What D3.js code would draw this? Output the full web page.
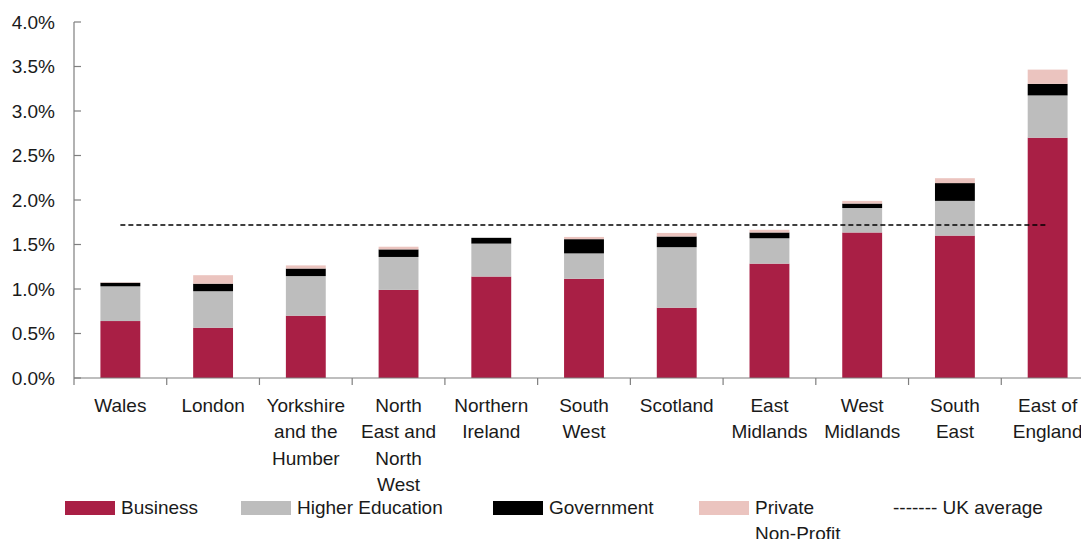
<!DOCTYPE html>
<html>
<head>
<meta charset="utf-8">
<script src="https://cdn.jsdelivr.net/npm/d3@7"></script>
<style>
  html, body { margin: 0; padding: 0; background: #fff; }
  svg { display: block; font-family: "Liberation Sans", Arial, sans-serif; }
</style>
</head>
<body>
<svg id="chart" width="1081" height="539"></svg>
<script>
// R&D expenditure as a share of regional GDP, by performing sector
const regions = [
  ["Wales"], ["London"], ["Yorkshire", "and the", "Humber"],
  ["North", "East and", "North", "West"], ["Northern", "Ireland"],
  ["South", "West"], ["Scotland"], ["East", "Midlands"],
  ["West", "Midlands"], ["South", "East"], ["East of", "England"]
];
const business        = [0.64, 0.565, 0.70, 0.99, 1.14, 1.115, 0.79, 1.285, 1.635, 1.60, 2.70];
const higherEducation = [0.39, 0.41, 0.445, 0.37, 0.37, 0.285, 0.68, 0.285, 0.275, 0.39, 0.475];
const government      = [0.04, 0.085, 0.085, 0.085, 0.065, 0.16, 0.12, 0.065, 0.05, 0.20, 0.13];
const privateNonProfit = [0.005, 0.095, 0.035, 0.03, 0.0, 0.025, 0.04, 0.03, 0.03, 0.055, 0.16];
const ukAverage = 1.72;
const yTicks = [0, 0.5, 1.0, 1.5, 2.0, 2.5, 3.0, 3.5, 4.0];

const seriesKeys = ["Business", "Higher Education", "Government", "Private Non-Profit"];
const seriesColors = ["#A91F45", "#BDBDBD", "#000000", "#EBC4BF"];

const rows = regions.map((r, i) => ({
  key: i,
  "Business": business[i],
  "Higher Education": higherEducation[i],
  "Government": government[i],
  "Private Non-Profit": privateNonProfit[i]
}));

const svg = d3.select("#chart");
const plotLeft = 74, plotRight = 1094, plotTop = 22, plotBottom = 378;
const fontSize = 19;
const textColor = "#1a1a1a";

const x = d3.scaleBand()
  .domain(d3.range(regions.length))
  .range([plotLeft, plotRight])
  .paddingInner(0.57)
  .paddingOuter(0.285);

const y = d3.scaleLinear().domain([0, 4]).range([plotBottom, plotTop]);

const stacked = d3.stack().keys(seriesKeys)(rows);

// stacked bars
svg.append("g").selectAll("g")
  .data(stacked)
  .join("g")
  .attr("fill", (d, i) => seriesColors[i])
  .selectAll("rect")
  .data(d => d)
  .join("rect")
  .attr("x", d => x(d.data.key))
  .attr("width", x.bandwidth())
  .attr("y", d => y(d[1]))
  .attr("height", d => Math.max(0, y(d[0]) - y(d[1])));

// y axis
const axisColor = "#7f7f7f";
svg.append("line")
  .attr("x1", plotLeft).attr("x2", plotLeft)
  .attr("y1", y(4)).attr("y2", y(0))
  .attr("stroke", axisColor).attr("stroke-width", 1.2);

svg.append("g").selectAll("line")
  .data(yTicks)
  .join("line")
  .attr("x1", plotLeft).attr("x2", plotLeft + 7)
  .attr("y1", d => y(d)).attr("y2", d => y(d))
  .attr("stroke", axisColor).attr("stroke-width", 1.2);

svg.append("g").selectAll("text")
  .data(yTicks)
  .join("text")
  .attr("x", 55)
  .attr("y", d => y(d))
  .attr("dy", "0.35em")
  .attr("text-anchor", "end")
  .attr("font-size", fontSize)
  .attr("fill", textColor)
  .text(d => d3.format(".1f")(d) + "%");

// x axis
svg.append("line")
  .attr("x1", plotLeft).attr("x2", plotRight)
  .attr("y1", y(0)).attr("y2", y(0))
  .attr("stroke", axisColor).attr("stroke-width", 1.2);

const step = x.step();
svg.append("g").selectAll("line")
  .data(d3.range(regions.length + 1))
  .join("line")
  .attr("x1", i => plotLeft + i * step).attr("x2", i => plotLeft + i * step)
  .attr("y1", y(0)).attr("y2", y(0) + 7)
  .attr("stroke", axisColor).attr("stroke-width", 1.2);

// category labels
const labels = svg.append("g").selectAll("text")
  .data(regions)
  .join("text")
  .attr("x", (d, i) => x(i) + x.bandwidth() / 2)
  .attr("y", 412)
  .attr("text-anchor", "middle")
  .attr("font-size", fontSize)
  .attr("fill", textColor);
labels.selectAll("tspan")
  .data(d => d)
  .join("tspan")
  .attr("x", function () { return d3.select(this.parentNode).attr("x"); })
  .attr("dy", (d, i) => i === 0 ? 0 : 26.3)
  .text(d => d);

// UK average line
svg.append("line")
  .attr("x1", x(0) + x.bandwidth() / 2)
  .attr("x2", x(regions.length - 1) + x.bandwidth() / 2)
  .attr("y1", y(ukAverage)).attr("y2", y(ukAverage))
  .attr("stroke", "#000").attr("stroke-width", 1.5)
  .attr("stroke-dasharray", "5,3");

// legend
const legendItems = [
  { label: ["Business"], color: seriesColors[0], x: 65 },
  { label: ["Higher Education"], color: seriesColors[1], x: 241 },
  { label: ["Government"], color: seriesColors[2], x: 493 },
  { label: ["Private", "Non-Profit"], color: seriesColors[3], x: 699 }
];
const lg = svg.append("g").selectAll("g")
  .data(legendItems)
  .join("g")
  .attr("transform", d => `translate(${d.x},0)`);
lg.append("rect")
  .attr("x", 0).attr("y", 501)
  .attr("width", 50).attr("height", 14)
  .attr("fill", d => d.color);
const lt = lg.append("text")
  .attr("x", 56).attr("y", 514)
  .attr("font-size", fontSize)
  .attr("fill", textColor);
lt.selectAll("tspan")
  .data(d => d.label)
  .join("tspan")
  .attr("x", 56)
  .attr("dy", (d, i) => i === 0 ? 0 : 26.3)
  .text(d => d);

svg.append("text")
  .attr("x", 893).attr("y", 514)
  .attr("font-size", fontSize)
  .attr("fill", textColor)
  .text("------- UK average");
</script>
</body>
</html>
